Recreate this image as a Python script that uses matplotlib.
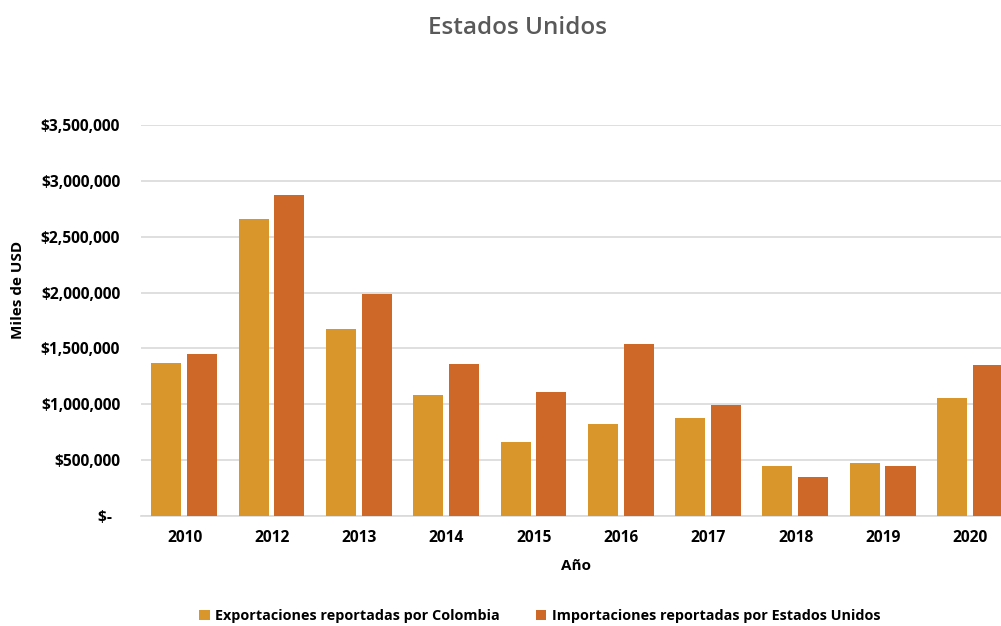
import matplotlib
matplotlib.use("Agg")
import matplotlib.pyplot as plt
import numpy as np
from matplotlib.ticker import FuncFormatter

years = ["2010", "2012", "2013", "2014", "2015", "2016", "2017", "2018", "2019", "2020"]
exportaciones = [1369000, 2658000, 1674000, 1083000, 662000, 823000, 877000, 448000, 474000, 1056000]
importaciones = [1450000, 2873000, 1987000, 1360000, 1110000, 1540000, 993000, 349000, 448000, 1352000]

c_exp = "#D9962A"
c_imp = "#CD6829"

plt.rcParams['font.family'] = ['Open Sans', 'DejaVu Sans']

fig = plt.figure(figsize=(10.01, 6.26), dpi=100)
# plot area runs past the right edge like the original
ax = fig.add_axes([141 / 1001, 1 - 516 / 626, (1014 - 141) / 1001, (516 - 125) / 626])

x = np.arange(len(years))
w = 0.344
ax.bar(x - 0.21, exportaciones, w, color=c_exp, label="Exportaciones reportadas por Colombia", zorder=3)
ax.bar(x + 0.20, importaciones, w, color=c_imp, label="Importaciones reportadas por Estados Unidos", zorder=3)

ax.set_xlim(-0.5, len(years) - 0.5)
ax.set_ylim(0, 3500000)
ax.set_yticks(np.arange(0, 3500001, 500000))
ax.yaxis.set_major_formatter(FuncFormatter(lambda v, p: "$-  " if v == 0 else "${:,.0f}".format(v)))
ax.set_xticks(x)
ax.set_xticklabels(years)

ax.grid(axis="y", color="#D9D9D9", linewidth=1.2, zorder=0)
for s in ["top", "right", "left"]:
    ax.spines[s].set_visible(False)
ax.spines["bottom"].set_color("#D9D9D9")
ax.spines["bottom"].set_linewidth(1.2)
ax.tick_params(axis="both", length=0, labelsize=11.2)
ax.tick_params(axis="y", pad=15)
ax.tick_params(axis="x", pad=10)
for lab in ax.get_xticklabels() + ax.get_yticklabels():
    lab.set_fontweight("bold")

fig.text(18 / 1001, 1 - 290 / 626, "Miles de USD", rotation=90, ha="center", va="center",
         fontsize=11, fontweight="bold")
fig.text(576 / 1001, 1 - 566 / 626, "Año", ha="center", va="center", fontsize=11, fontweight="bold")
fig.text(518 / 1001, 1 - 28 / 626, "Estados Unidos", ha="center", va="center", fontsize=17.5,
         color="#595959", fontweight="semibold")

fig.legend(loc="center", bbox_to_anchor=(540 / 1001, 1 - 616 / 626), ncol=2, frameon=False,
           prop={"weight": "bold", "size": 10.4}, handlelength=0.7, handleheight=0.7,
           handletextpad=0.4, columnspacing=2.5)

fig.savefig("out.png", dpi=100)
